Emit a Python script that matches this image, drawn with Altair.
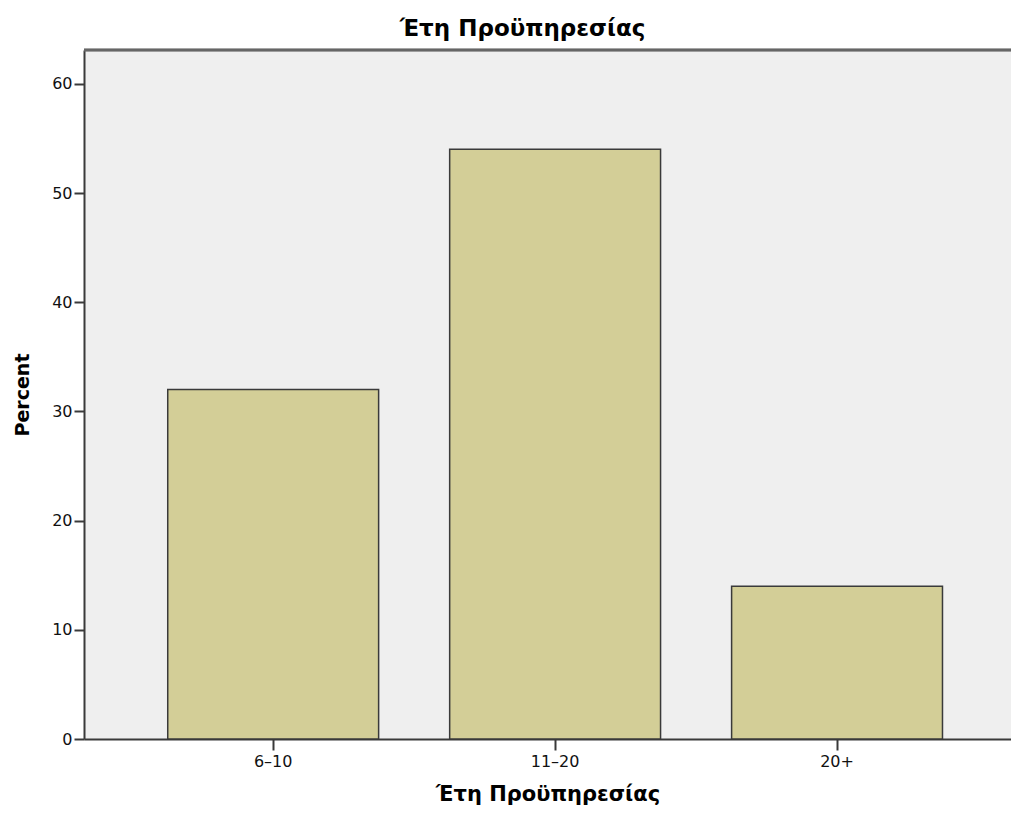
import altair as alt
import pandas as pd

categories = ["6–10", "11–20", "20+"]
percents = [32.0, 54.0, 14.0]

df = pd.DataFrame({"cat": categories, "pct": percents})

FONT = "DejaVu Sans"
W, H = 927, 689

bars = alt.Chart(df).mark_bar(
    color="#d3ce97", stroke="#3a3a3a", strokeWidth=1.5
).encode(
    x=alt.X("cat:N", sort=categories,
            scale=alt.Scale(paddingInner=0.252, paddingOuter=0.27, align=0.55),
            axis=alt.Axis(title="Έτη Προϋπηρεσίας", labelAngle=0, tickSize=11,
                          labelPadding=3, titlePadding=14, titleFontSize=21)),
    y=alt.Y("pct:Q", scale=alt.Scale(domain=[0, 63.1], nice=False),
            axis=alt.Axis(title="Percent", values=[0, 10, 20, 30, 40, 50, 60],
                          tickSize=10, labelPadding=2, titlePadding=19, grid=False,
                          titleFontSize=19)),
)

top_border = alt.Chart(df).mark_rule(color="#666666", strokeWidth=2.5).encode(
    x=alt.value(0), x2=alt.value(W), y=alt.value(0)
)

chart = alt.layer(bars, top_border).properties(
    width=W, height=H,
    title=alt.Title("Έτη Προϋπηρεσίας", fontSize=23, font=FONT, fontWeight="bold",
                    color="#000000", offset=8, dx=-25),
    padding={"left": 84, "top": 50, "right": 0, "bottom": 76},
    autosize=alt.AutoSizeParams(type="none"),
).configure_view(
    fill="#efefef", stroke=None
).configure_axis(
    labelFont=FONT, titleFont=FONT, labelFontSize=16,
    titleFontWeight="bold", labelColor="#111111", titleColor="#000000",
    domainColor="#3a3a3a", tickColor="#3a3a3a", domainWidth=2, tickWidth=2,
)

chart.save("out.html", embed_options={"renderer": "svg", "actions": False})
